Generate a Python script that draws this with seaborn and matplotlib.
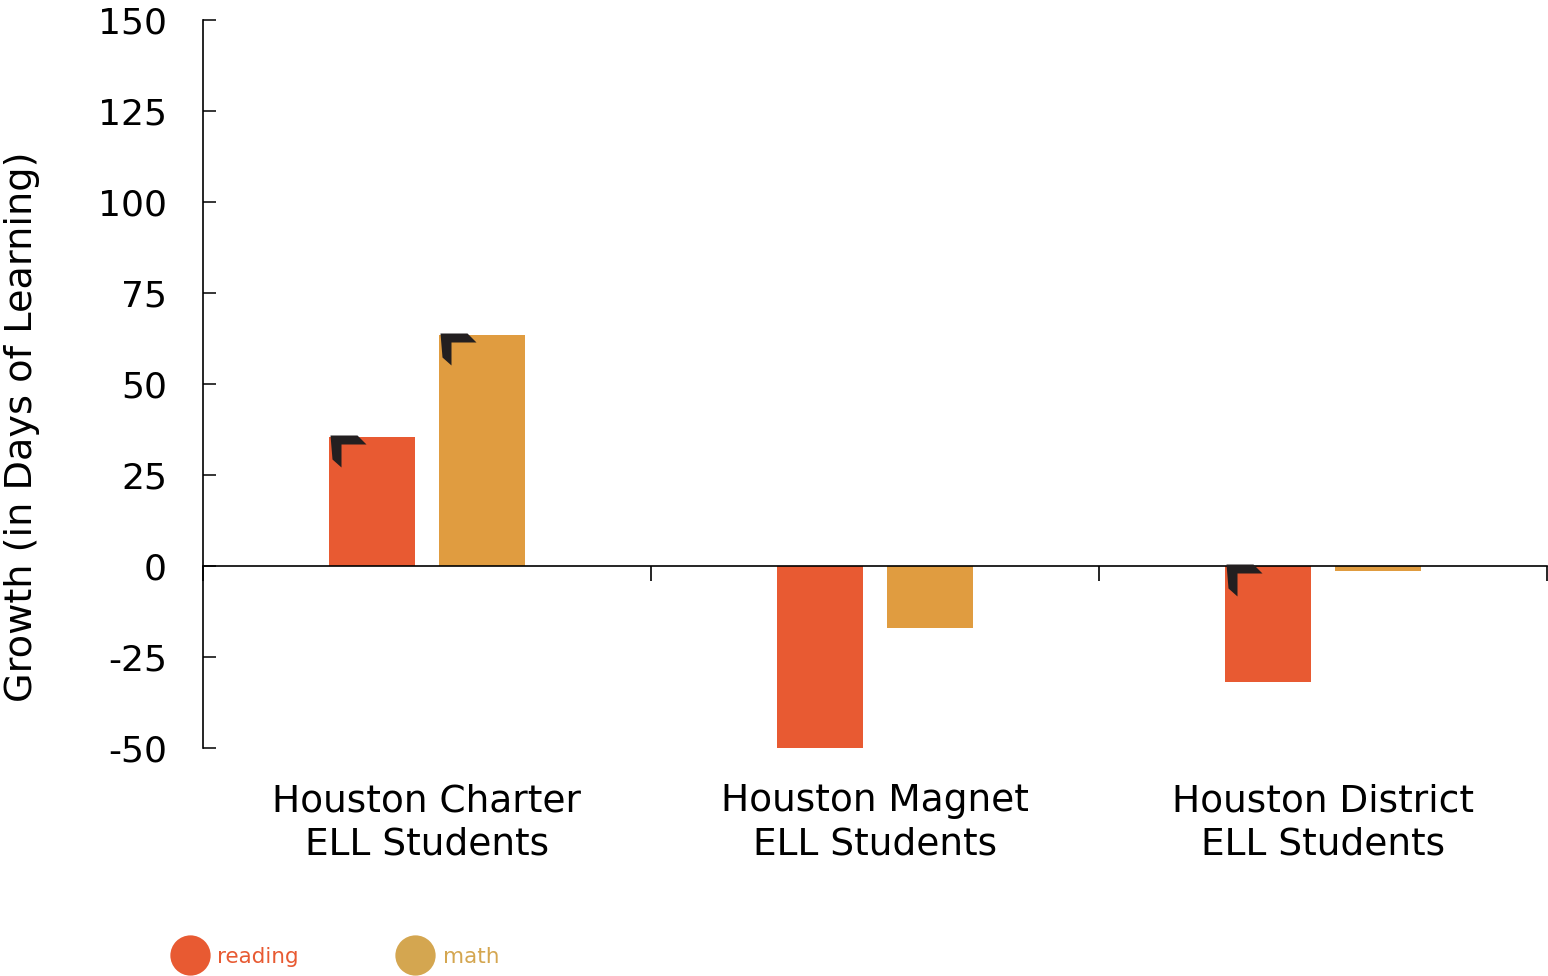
import pandas as pd
import matplotlib.pyplot as plt
import matplotlib.transforms as mtransforms
from matplotlib.path import Path
from matplotlib.lines import Line2D
import seaborn as sns

# data
groups = ["Houston Charter\nELL Students", "Houston Magnet\nELL Students", "Houston District\nELL Students"]
subjects = ["reading", "math"]
reading = [35.5, -50.5, -32]
math = [63.5, -17, -1.5]
reading_sig = [True, False, True]
math_sig = [True, False, False]

bar_colors = {"reading": "#E85A32", "math": "#E09C40"}
legend_colors = {"reading": "#E85A32", "math": "#D4A650"}

sns.set_style("white")
plt.rcParams["font.family"] = ["DejaVu Sans"]
plt.rcParams["axes.unicode_minus"] = False
plt.rcParams["text.color"] = "black"
plt.rcParams["axes.labelcolor"] = "black"

df = pd.DataFrame({
    "group": groups * 2,
    "subject": ["reading"] * 3 + ["math"] * 3,
    "growth": reading + math,
})

fig = plt.figure(figsize=(15.48, 9.76), dpi=100)
ax = fig.add_axes([203 / 1548, 1 - 748 / 976, 1344 / 1548, 728 / 976])

sns.barplot(data=df, x="group", y="growth", hue="subject", hue_order=subjects,
            palette=bar_colors, width=0.49, gap=0.22, errorbar=None,
            saturation=1, linewidth=0, legend=False, ax=ax)

# axes styling
ax.set_ylim(-50, 150)
ax.set_xlim(-0.5, 2.5)
ax.set_yticks(range(-50, 151, 25))
ax.set_xticks([-0.5, 0.5, 1.5, 2.5], labels=[])
ax.spines["top"].set_visible(False)
ax.spines["right"].set_visible(False)
ax.spines["bottom"].set_position(("data", 0))
for s in ("left", "bottom"):
    ax.spines[s].set_linewidth(1.2)
    ax.spines[s].set_color("black")
ax.tick_params(axis="y", left=True, direction="in", length=9, width=1.1, pad=26,
               labelsize=26, colors="black")
ax.tick_params(axis="x", bottom=True, direction="out", length=11, width=1.2, colors="black")
ax.set_xlabel("")
ax.set_ylabel("Growth (in Days of Learning)", fontsize=27.5, color="black")
ax.yaxis.label.set_va("center")
ax.yaxis.set_label_coords(-0.1347, 0.441)

# category labels below the plot
trans = mtransforms.blended_transform_factory(ax.transData, ax.transAxes)
for i, g in enumerate(groups):
    ax.text(i, -0.103, g, transform=trans, ha="center", va="center",
            fontsize=27, linespacing=1.27, color="black")

# significance flag at the top-left corner of a bar
flag = Path([(1, 2), (28, 2), (37, -7), (12, -7), (12, -30), (3, -22), (1, 2)],
            [Path.MOVETO] + [Path.LINETO] * 5 + [Path.CLOSEPOLY])
flag_size = 2 * 37 * 0.72
for container, sig in zip(ax.containers, [reading_sig, math_sig]):
    for bar, s in zip(container.patches, sig):
        if not s:
            continue
        top = max(bar.get_y(), bar.get_y() + bar.get_height())
        ax.plot(bar.get_x(), top, marker=flag, markersize=flag_size,
                color="#231F20", markeredgewidth=0, linestyle="", zorder=5,
                clip_on=False)

# legend
handles = [Line2D([], [], marker="o", linestyle="", markersize=29,
                  markerfacecolor=legend_colors[s], markeredgewidth=0) for s in subjects]
fig.legend(handles, subjects, loc="center left", bbox_to_anchor=(168 / 1548, 1 - 957 / 976),
           ncol=2, frameon=False, fontsize=15.5, handlelength=2, handletextpad=0.28,
           columnspacing=4.4, borderpad=0, borderaxespad=0,
           labelcolor=[legend_colors[s] for s in subjects])

fig.savefig("out.png", dpi=100)
